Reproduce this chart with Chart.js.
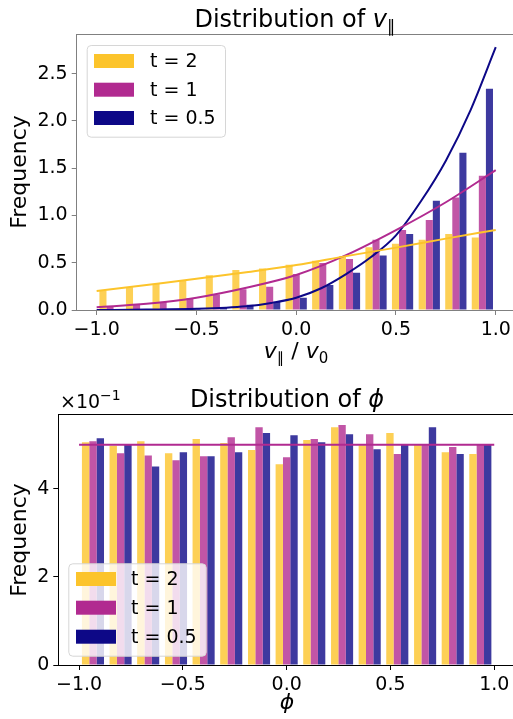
<!DOCTYPE html>
<html>
<head>
<meta charset="utf-8">
<script src="https://cdn.jsdelivr.net/npm/chart.js@4.4.1/dist/chart.umd.min.js"></script>
<style>
  html, body { margin: 0; padding: 0; background: #fff; overflow: hidden; }
  body { width: 513px; height: 719px; position: relative; }
  canvas { position: absolute; left: 0; }
  #vparChart { top: 0; }
  #phiChart { top: 372px; }
</style>
</head>
<body>
<canvas id="vparChart" width="520" height="372"></canvas>
<canvas id="phiChart" width="520" height="347"></canvas>
<script>
const FONT = "DejaVu Sans";

const seriesLabels = ["t = 2", "t = 1", "t = 0.5"];
const seriesColors = ["#fcc42b", "#b12a90", "#0d0887"];
const barColors = ["rgba(252,196,43,0.8)", "rgba(177,42,144,0.8)", "rgba(13,8,135,0.8)"];

// 15 bins over [-1, 1]
const binCenters = [-0.933, -0.8, -0.667, -0.533, -0.4, -0.267, -0.133, 0, 0.133, 0.267, 0.4, 0.533, 0.667, 0.8, 0.933];

// histogram of v_par / v0
const vparT2 = [0.203, 0.24, 0.275, 0.314, 0.368, 0.424, 0.44, 0.48, 0.52, 0.572, 0.664, 0.70, 0.742, 0.805, 0.766];
const vparT1 = [0.042, 0.058, 0.088, 0.124, 0.164, 0.219, 0.247, 0.381, 0.498, 0.54, 0.742, 0.847, 0.953, 1.19, 1.42];
const vparT05 = [0.01, 0.007, 0.008, 0.014, 0.027, 0.055, 0.088, 0.13, 0.265, 0.395, 0.576, 0.805, 1.155, 1.663, 2.34];

// theory curves
const curveT2X = [-1, -0.75, -0.5, -0.25, 0, 0.25, 0.5, 0.75, 1];
const curveT2Y = [0.20, 0.265, 0.33, 0.40, 0.475, 0.57, 0.66, 0.755, 0.847];
const curveT1X = [-1, -0.75, -0.5, -0.25, 0, 0.25, 0.5, 0.75, 1];
const curveT1Y = [0.03, 0.065, 0.13, 0.235, 0.37, 0.58, 0.845, 1.14, 1.48];
const curveT05X = [-1, -0.75, -0.5, -0.25, -0.125, 0, 0.125, 0.25, 0.375, 0.5, 0.625, 0.75, 0.875, 1];
const curveT05Y = [0.0, 0.004, 0.012, 0.04, 0.075, 0.13, 0.23, 0.38, 0.56, 0.79, 1.15, 1.58, 2.12, 2.78];

const vparXTicks = [-1, -0.5, 0, 0.5, 1];
const vparXTickLabels = ["\u22121.0", "\u22120.5", "0.0", "0.5", "1.0"];
const vparYTicks = [0, 0.5, 1, 1.5, 2, 2.5];
const vparYTickLabels = ["0.0", "0.5", "1.0", "1.5", "2.0", "2.5"];

// histogram of phi
const phiT2 = [0.506, 0.498, 0.508, 0.481, 0.513, 0.504, 0.488, 0.456, 0.511, 0.540, 0.499, 0.527, 0.500, 0.483, 0.479];
const phiT1 = [0.508, 0.481, 0.476, 0.465, 0.474, 0.517, 0.540, 0.472, 0.513, 0.545, 0.524, 0.479, 0.500, 0.495, 0.500];
const phiT05 = [0.515, 0.500, 0.451, 0.483, 0.474, 0.483, 0.527, 0.522, 0.506, 0.524, 0.490, 0.500, 0.540, 0.479, 0.500];
const phiUniformX = [-1, 1];
const phiUniformY = [0.5, 0.5];

const phiXTicks = [-1, -0.5, 0, 0.5, 1];
const phiXTickLabels = ["\u22121.0", "\u22120.5", "0.0", "0.5", "1.0"];
const phiYTicks = [0, 0.2, 0.4];
const phiYTickLabels = ["0", "2", "4"];

function pts(xs, ys) {
  return xs.map((x, i) => ({ x: x, y: ys[i] }));
}

function barSet(i, vals) {
  return {
    type: "bar",
    label: seriesLabels[i],
    data: pts(binCenters, vals),
    backgroundColor: barColors[i],
    borderWidth: 0,
    categoryPercentage: 0.8,
    barPercentage: 1.0,
    order: 2
  };
}

function lineSet(color, xs, ys) {
  return {
    type: "line",
    data: pts(xs, ys),
    borderColor: color,
    borderWidth: 2,
    pointRadius: 0,
    fill: false,
    cubicInterpolationMode: "monotone",
    order: 0
  };
}

// draws a row of text pieces (normal / italic / sub / sup) centred on cx
function drawRuns(ctx, runs, cx, baseline, align) {
  let total = 0;
  runs.forEach(r => { ctx.font = r.font; total += ctx.measureText(r.text).width; });
  let x = align === "left" ? cx : cx - total / 2;
  ctx.textAlign = "left";
  ctx.textBaseline = "alphabetic";
  ctx.fillStyle = "#000";
  runs.forEach(r => {
    ctx.font = r.font;
    ctx.fillText(r.text, x, baseline + (r.dy || 0));
    x += ctx.measureText(r.text).width;
  });
}

const decoPlugin = {
  id: "deco",
  afterDraw(chart, args, o) {
    const ctx = chart.ctx;
    const a = chart.chartArea;
    ctx.save();

    // top spine
    ctx.strokeStyle = o.spineColor;
    ctx.lineWidth = 1;
    ctx.beginPath();
    ctx.moveTo(a.left, a.top + 0.5);
    ctx.lineTo(a.right, a.top + 0.5);
    ctx.stroke();

    drawRuns(ctx, o.title, o.titleX, o.titleY);
    drawRuns(ctx, o.xlabel, o.xlabelX, o.xlabelY);
    if (o.offsetText) drawRuns(ctx, o.offsetText, o.offsetX, o.offsetY, "left");

    // y label
    ctx.save();
    ctx.translate(o.ylabelX, o.ylabelY);
    ctx.rotate(-Math.PI / 2);
    ctx.font = "22px " + FONT;
    ctx.textAlign = "center";
    ctx.textBaseline = "middle";
    ctx.fillStyle = "#000";
    ctx.fillText("Frequency", 0, 0);
    ctx.restore();

    // legend
    const L = o.legend;
    ctx.beginPath();
    ctx.roundRect(L.x0 + 0.5, L.y0 + 0.5, L.x1 - L.x0, L.y1 - L.y0, 4);
    ctx.fillStyle = "rgba(255,255,255,0.8)";
    ctx.fill();
    ctx.strokeStyle = "#d6d6d6";
    ctx.lineWidth = 1;
    ctx.stroke();
    ctx.font = "19px " + FONT;
    ctx.textAlign = "left";
    ctx.textBaseline = "middle";
    seriesLabels.forEach((lab, i) => {
      const cy = L.rows[i];
      ctx.fillStyle = seriesColors[i];
      ctx.fillRect(L.px, cy - 7, 40, 14);
      ctx.fillStyle = "#000";
      ctx.fillText(lab, L.tx, cy + 1);
    });

    ctx.restore();
  }
};

function axisStyle(color) {
  return {
    grid: { display: true, drawOnChartArea: false, drawTicks: true, tickLength: 5, color: color, offset: false },
    border: { display: true, color: color, width: 1 }
  };
}

function makeChart(id, cfg) {
  const xs = axisStyle(cfg.spineColor);
  const ys = axisStyle(cfg.spineColor);
  return new Chart(document.getElementById(id), {
    type: "bar",
    data: { datasets: cfg.datasets },
    options: {
      responsive: false,
      animation: false,
      events: [],
      devicePixelRatio: 1,
      layout: { padding: { top: cfg.area.top, right: 520 - cfg.area.right, bottom: 0, left: 0 } },
      scales: {
        x: {
          type: "linear",
          min: -1.1,
          max: 1.1,
          offset: false,
          grid: xs.grid,
          border: xs.border,
          afterBuildTicks: s => { s.ticks = cfg.xTicks.map(v => ({ value: v })); },
          afterFit: s => { s.height = cfg.height - cfg.area.bottom; },
          ticks: {
            autoSkip: false,
            maxRotation: 0,
            padding: 4,
            color: "#000",
            font: { family: FONT, size: 19 },
            callback: (v, i) => cfg.xTickLabels[i]
          }
        },
        y: {
          type: "linear",
          min: 0,
          max: cfg.yMax,
          grid: ys.grid,
          border: ys.border,
          afterBuildTicks: s => { s.ticks = cfg.yTicks.map(v => ({ value: v })); },
          afterFit: s => { s.width = cfg.area.left; },
          ticks: {
            autoSkip: false,
            padding: 4,
            color: "#000",
            font: { family: FONT, size: 19 },
            callback: (v, i) => cfg.yTickLabels[i]
          }
        }
      },
      plugins: {
        legend: { display: false },
        title: { display: false },
        tooltip: { enabled: false },
        deco: cfg.deco
      }
    },
    plugins: [decoPlugin]
  });
}

makeChart("vparChart", {
  height: 372,
  area: { left: 76.7, top: 34, right: 515.7, bottom: 310 },
  yMax: 2.92,
  spineColor: "#808080",
  xTicks: vparXTicks, xTickLabels: vparXTickLabels,
  yTicks: vparYTicks, yTickLabels: vparYTickLabels,
  datasets: [
    barSet(0, vparT2), barSet(1, vparT1), barSet(2, vparT05),
    lineSet(seriesColors[0], curveT2X, curveT2Y),
    lineSet(seriesColors[1], curveT1X, curveT1Y),
    lineSet(seriesColors[2], curveT05X, curveT05Y)
  ],
  deco: {
    spineColor: "#808080",
    title: [
      { text: "Distribution of ", font: "24px " + FONT },
      { text: "v", font: "italic 24px " + FONT },
      { text: "\u2225", font: "17px " + FONT, dy: 5 }
    ],
    titleX: 295, titleY: 27,
    xlabel: [
      { text: "v", font: "italic 22px " + FONT },
      { text: "\u2225", font: "15px " + FONT, dy: 5 },
      { text: " / ", font: "22px " + FONT },
      { text: "v", font: "italic 22px " + FONT },
      { text: "0", font: "15px " + FONT, dy: 5 }
    ],
    xlabelX: 296, xlabelY: 358,
    ylabelX: 20, ylabelY: 172,
    legend: { x0: 86.7, y0: 45, x1: 225, y1: 136.7, px: 94, tx: 150, rows: [61, 89.7, 118] }
  }
});

// second chart canvas starts at page y = 372
makeChart("phiChart", {
  height: 347,
  area: { left: 58.3, top: 42, right: 515, bottom: 293 },
  yMax: 0.57,
  spineColor: "#000",
  xTicks: phiXTicks, xTickLabels: phiXTickLabels,
  yTicks: phiYTicks, yTickLabels: phiYTickLabels,
  datasets: [
    barSet(0, phiT2), barSet(1, phiT1), barSet(2, phiT05),
    lineSet(seriesColors[1], phiUniformX, phiUniformY)
  ],
  deco: {
    spineColor: "#000",
    title: [
      { text: "Distribution of ", font: "24px " + FONT },
      { text: "\u03d5", font: "italic 24px " + FONT }
    ],
    titleX: 287, titleY: 35,
    xlabel: [{ text: "\u03d5", font: "italic 22px " + FONT }],
    xlabelX: 287, xlabelY: 337,
    offsetText: [
      { text: "\u00d710", font: "19px " + FONT },
      { text: "\u22121", font: "14px " + FONT, dy: -8 }
    ],
    offsetX: 60, offsetY: 36,
    ylabelX: 20, ylabelY: 168,
    legend: { x0: 68.3, y0: 191.3, x1: 205.7, y1: 283.7, px: 76, tx: 131, rows: [207, 235.7, 264.7] }
  }
});
</script>
</body>
</html>
